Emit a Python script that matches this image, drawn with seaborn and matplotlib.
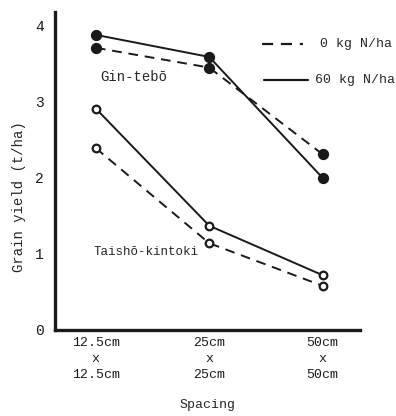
import matplotlib
matplotlib.use("Agg")
import matplotlib.pyplot as plt
import seaborn as sns
import pandas as pd

# Plant spacing treatments
spacing = ["12.5cm\nx\n12.5cm", "25cm\nx\n25cm", "50cm\nx\n50cm"]

# Grain yield (t/ha) by cultivar and nitrogen rate
gin_0 = [3.71, 3.45, 2.31]
gin_60 = [3.88, 3.59, 2.00]
tai_0 = [2.39, 1.14, 0.58]
tai_60 = [2.91, 1.37, 0.72]

sns.set_theme(style="white")
plt.rcParams["font.family"] = ["Liberation Mono", "DejaVu Sans Mono"]

fig = plt.figure(figsize=(3.96, 4.16), dpi=100)
ax = fig.add_axes([0.139, 0.207, 0.77, 0.764])

pos = list(range(len(spacing)))
series = [
    (gin_0, True, "k", 6.5),
    (gin_60, False, "k", 6.5),
    (tai_0, True, "white", 5.5),
    (tai_60, False, "white", 5.5),
]
for vals, dashed, fc, ms in series:
    df = pd.DataFrame({"spacing": pos, "yield": vals})
    sns.lineplot(data=df, x="spacing", y="yield", ax=ax, color="k", lw=1.4,
                 marker="o", markersize=ms, markerfacecolor=fc,
                 markeredgecolor="k", markeredgewidth=1.6)
    if dashed:
        ax.get_lines()[-1].set_dashes((5, 3.5))

ax.set_xlim(-0.36, 2.33)
ax.set_ylim(0, 4.18)
ax.set_xticks(pos)
ax.set_xticklabels(spacing, fontsize=9.5, linespacing=1.45)
ax.set_yticks([0, 1, 2, 3, 4])
ax.set_yticklabels(["0", "1", "2", "3", "4"], fontsize=10.5)
ax.set_xlabel("Spacing", fontsize=9.5, labelpad=13)
ax.set_ylabel("Grain yield (t/ha)", fontsize=10)
ax.yaxis.set_label_coords(-0.095, 0.42)

sns.despine(ax=ax)
for side in ["left", "bottom"]:
    ax.spines[side].set_linewidth(2.4)
    ax.spines[side].set_color("k")
ax.tick_params(axis="y", direction="in", length=8, width=1.8, pad=8, colors="k")
ax.tick_params(axis="x", direction="in", length=6, width=1.4, pad=5, colors="k")
ax.grid(False)

ax.text(0.04, 3.32, "Gin-tebō", fontsize=10, ha="left", va="center")
ax.text(-0.02, 1.03, "Taishō-kintoki", fontsize=9, ha="left", va="center")

# Legend drawn as line samples with labels
ax.plot([1.47, 1.83], [3.76, 3.76], color="k", lw=1.6, dashes=(5, 3.5))
ax.text(1.98, 3.76, "0 kg N/ha", fontsize=9.5, ha="left", va="center")
ax.plot([1.48, 1.87], [3.29, 3.29], color="k", lw=1.6)
ax.text(1.93, 3.29, "60 kg N/ha", fontsize=9.5, ha="left", va="center")

fig.savefig("out.png", dpi=100)
